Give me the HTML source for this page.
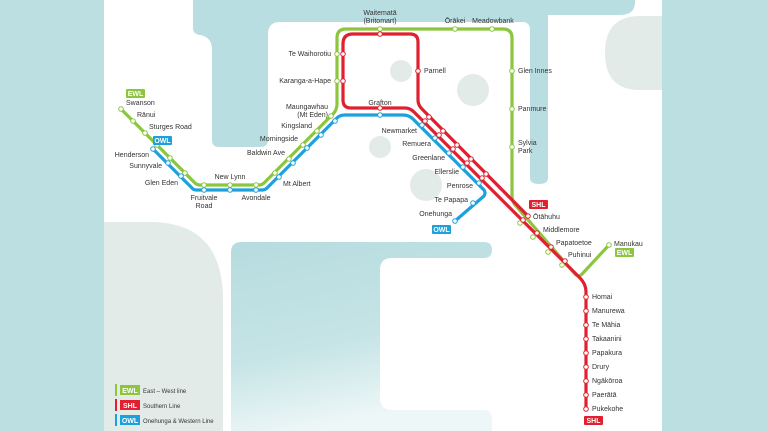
<!DOCTYPE html>
<html><head><meta charset="utf-8"><style>
html,body{margin:0;padding:0;background:#bcdfe2;}
svg{display:block;}
text{font-family:"Liberation Sans",sans-serif;font-size:7px;fill:#333;}
</style></head><body>
<svg width="767" height="431" viewBox="0 0 767 431" xmlns="http://www.w3.org/2000/svg">
<defs>
<linearGradient id="sea" x1="0" y1="0" x2="0.3" y2="1">
<stop offset="0" stop-color="#b6dcdf"/><stop offset="0.6" stop-color="#c6e4e6"/><stop offset="1" stop-color="#eef7f7"/>
</linearGradient>
</defs>
<rect width="767" height="431" fill="#bcdfe2"/>
<rect x="104" y="0" width="558" height="431" fill="#ffffff"/>
<!-- top sea -->
<path d="M193 0 H635 V2 Q635 15 620 15 H548 V178 Q548 184 539 184 Q530 184 530 178 V30 Q530 22 522 22 H280 Q268 22 268 34 V140 Q268 147 260 147 H219 Q212 147 212 140 V50 Q212 37 200 35 Q193 34 193 28 Z" fill="#b9dee1"/>
<!-- right grey -->
<path d="M662 16 H640 Q605 16 605 53 Q605 90 640 90 H662 Z" fill="#e3ebe8"/>
<!-- left grey -->
<path d="M104 222 H150 Q223 222 223 300 V431 H104 Z" fill="#e3ebe8"/>
<!-- bottom sea -->
<path d="M231 252 Q231 242 242 242 H484 Q492 242 492 250 Q492 258 484 258 H392 Q380 258 380 270 V398 Q380 410 392 410 H484 Q492 410 492 420 V431 H231 Z" fill="url(#sea)"/>
<!-- grey circles -->
<g fill="#e3ebe8">
<circle cx="401" cy="71" r="11"/><circle cx="473" cy="90" r="16"/><circle cx="380" cy="147" r="11"/><circle cx="426" cy="185" r="16"/>
</g>
<g fill="none" stroke-linecap="round" stroke-linejoin="round" stroke-width="3.2">
<!-- EWL green -->
<path d="M121 109 L195 183 Q197 185 200 185 H259 Q262 185 264 183 L333 114 Q337 110 337 104 V38 Q337 29 346 29 H503 Q512 29 512 38 V196 Q512 202 516 206 L575 274 Q579 278 583 273 L609 245" stroke="#8cc63f"/>
<!-- OWL blue -->
<path d="M153 149 L193 189 Q194 190 197 190 H262 Q265 190 267 188 L337 118 Q340 115 345 115 H403 Q409 115 413 119 L484 190 Q486 193 484 196 L455 221" stroke="#1ea0dc"/>
<!-- SHL red -->
<path d="M343 44 Q343 34 353 34 H410 Q418 34 418 42 V100 Q418 105 422 109 L528 216" stroke="#e0202f"/>
<path d="M343 44 V100 Q343 108 351 108 H405 Q410 108 414 112 L580 278 Q586 284 586 292 V409" stroke="#e0202f"/>
</g>
<!-- stations -->
<g fill="#fff" stroke-width="1">
<g stroke="#8cc63f">
<circle cx="121" cy="109" r="2.3"/><circle cx="133" cy="121" r="2.3"/><circle cx="145" cy="133" r="2.3"/><circle cx="157" cy="145" r="2.3"/><circle cx="170" cy="158" r="2.3"/><circle cx="185" cy="173" r="2.3"/>
<circle cx="204" cy="185" r="2.3"/><circle cx="230" cy="185" r="2.3"/><circle cx="256" cy="185" r="2.3"/>
<circle cx="275" cy="173" r="2.3"/><circle cx="289" cy="159" r="2.3"/><circle cx="303" cy="145" r="2.3"/><circle cx="317" cy="131" r="2.3"/><circle cx="331" cy="116" r="2.3"/>
<circle cx="337" cy="54" r="2.3"/><circle cx="337" cy="81" r="2.3"/>
<circle cx="380" cy="29" r="2.3"/><circle cx="455" cy="29" r="2.3"/><circle cx="492" cy="29" r="2.3"/>
<circle cx="512" cy="71" r="2.3"/><circle cx="512" cy="109" r="2.3"/><circle cx="512" cy="147" r="2.3"/>
<circle cx="520" cy="223" r="2.3"/><circle cx="533" cy="237" r="2.3"/><circle cx="548" cy="252" r="2.3"/><circle cx="562" cy="265" r="2.3"/><circle cx="609" cy="245" r="2.3"/>
</g>
<g stroke="#1ea0dc">
<circle cx="153" cy="149" r="2.3"/><circle cx="168" cy="163" r="2.3"/><circle cx="181" cy="176" r="2.3"/>
<circle cx="204" cy="190" r="2.3"/><circle cx="230" cy="190" r="2.3"/><circle cx="256" cy="190" r="2.3"/>
<circle cx="279" cy="177" r="2.3"/><circle cx="293" cy="163" r="2.3"/><circle cx="307" cy="148" r="2.3"/><circle cx="321" cy="135" r="2.3"/><circle cx="335" cy="121" r="2.3"/>
<circle cx="380" cy="115" r="2.3"/><circle cx="422" cy="125" r="2.3"/><circle cx="435" cy="138" r="2.3"/><circle cx="449" cy="153" r="2.3"/><circle cx="463" cy="167" r="2.3"/><circle cx="479" cy="183" r="2.3"/>
<circle cx="473" cy="203" r="2.3"/><circle cx="455" cy="221" r="2.3"/>
</g>
<g stroke="#e0202f">
<circle cx="380" cy="34" r="2.3"/><circle cx="343" cy="54" r="2.3"/><circle cx="343" cy="81" r="2.3"/><circle cx="418" cy="71" r="2.3"/><circle cx="380" cy="108" r="2.3"/>
<circle cx="429" cy="117" r="2.3"/><circle cx="425" cy="121" r="2.3"/>
<circle cx="443" cy="131" r="2.3"/><circle cx="439" cy="135" r="2.3"/>
<circle cx="457" cy="145" r="2.3"/><circle cx="453" cy="149" r="2.3"/>
<circle cx="471" cy="159" r="2.3"/><circle cx="467" cy="163" r="2.3"/>
<circle cx="486" cy="174" r="2.3"/><circle cx="482" cy="178" r="2.3"/>
<circle cx="528" cy="216" r="2.3"/><circle cx="523" cy="220" r="2.3"/>
<circle cx="537" cy="233" r="2.3"/><circle cx="551" cy="247" r="2.3"/><circle cx="565" cy="261" r="2.3"/>
<circle cx="586" cy="297" r="2.3"/><circle cx="586" cy="311" r="2.3"/><circle cx="586" cy="325" r="2.3"/><circle cx="586" cy="339" r="2.3"/><circle cx="586" cy="353" r="2.3"/><circle cx="586" cy="367" r="2.3"/><circle cx="586" cy="381" r="2.3"/><circle cx="586" cy="395" r="2.3"/><circle cx="586" cy="409" r="2.3"/>
</g>
</g>
<!-- labels -->
<g text-anchor="middle">
<text x="380" y="15">Waitematā</text><text x="380" y="23">(Britomart)</text>
<text x="455" y="23">Ōrākei</text><text x="493" y="23">Meadowbank</text>
<text x="380" y="105">Grafton</text><text x="230" y="179">New Lynn</text>
<text x="256" y="200">Avondale</text><text x="204" y="200">Fruitvale</text><text x="204" y="208">Road</text>
</g>
<g text-anchor="end">
<text x="331" y="56">Te Waihorotiu</text><text x="331" y="83">Karanga-a-Hape</text>
<text x="328" y="109">Maungawhau</text><text x="328" y="117">(Mt Eden)</text>
<text x="312" y="128">Kingsland</text><text x="298" y="141">Morningside</text><text x="285" y="155">Baldwin Ave</text>
<text x="178" y="185">Glen Eden</text><text x="162" y="168">Sunnyvale</text><text x="149" y="157">Henderson</text>
<text x="417" y="133">Newmarket</text><text x="431" y="146">Remuera</text><text x="445" y="160">Greenlane</text>
<text x="459" y="174">Ellerslie</text><text x="473" y="188">Penrose</text><text x="468" y="202">Te Papapa</text><text x="452" y="216">Onehunga</text>
</g>
<g>
<text x="283" y="186">Mt Albert</text>
<text x="149" y="129">Sturges Road</text><text x="137" y="117">Rānui</text><text x="126" y="105">Swanson</text>
<text x="424" y="73">Parnell</text><text x="518" y="73">Glen Innes</text><text x="518" y="111">Panmure</text>
<text x="518" y="145">Sylvia</text><text x="518" y="153">Park</text>
<text x="533" y="219">Ōtāhuhu</text><text x="543" y="232">Middlemore</text><text x="556" y="245">Papatoetoe</text><text x="568" y="257">Puhinui</text>
<text x="614" y="246">Manukau</text>
<text x="592" y="299">Homai</text><text x="592" y="313">Manurewa</text><text x="592" y="327">Te Māhia</text><text x="592" y="341">Takaanini</text><text x="592" y="355">Papakura</text><text x="592" y="369">Drury</text><text x="592" y="383">Ngākōroa</text><text x="592" y="397">Paerātā</text><text x="592" y="411">Pukekohe</text>
</g>
<!-- badges -->
<g font-weight="bold" text-anchor="middle">
<rect x="126" y="89" width="19" height="9" rx="1" fill="#8cc63f"/><text x="135.5" y="96" style="fill:#fff;font-weight:bold">EWL</text>
<rect x="153" y="136" width="19" height="9" rx="1" fill="#1ea0dc"/><text x="162.5" y="143" style="fill:#fff;font-weight:bold">OWL</text>
<rect x="432" y="225" width="19" height="9" rx="1" fill="#1ea0dc"/><text x="441.5" y="232" style="fill:#fff;font-weight:bold">OWL</text>
<rect x="529" y="200" width="19" height="9" rx="1" fill="#e0202f"/><text x="538.5" y="207" style="fill:#fff;font-weight:bold">SHL</text>
<rect x="615" y="248" width="19" height="9" rx="1" fill="#8cc63f"/><text x="624.5" y="255" style="fill:#fff;font-weight:bold">EWL</text>
<rect x="584" y="416" width="19" height="9" rx="1" fill="#e0202f"/><text x="593.5" y="423" style="fill:#fff;font-weight:bold">SHL</text>
</g>
<!-- legend -->
<rect x="115" y="384" width="2" height="12" fill="#8cc63f"/>
<rect x="120" y="385" width="20" height="10" fill="#8cc63f"/><text x="130" y="393" text-anchor="middle" style="fill:#fff;font-weight:bold">EWL</text>
<text x="143" y="393" style="font-size:6px">East – West line</text>
<rect x="115" y="399" width="2" height="12" fill="#e0202f"/>
<rect x="120" y="400" width="20" height="10" fill="#e0202f"/><text x="130" y="408" text-anchor="middle" style="fill:#fff;font-weight:bold">SHL</text>
<text x="143" y="408" style="font-size:6px">Southern Line</text>
<rect x="115" y="414" width="2" height="12" fill="#1ea0dc"/>
<rect x="120" y="415" width="20" height="10" fill="#1ea0dc"/><text x="130" y="423" text-anchor="middle" style="fill:#fff;font-weight:bold">OWL</text>
<text x="143" y="423" style="font-size:6px">Onehunga &amp; Western Line</text>
</svg>
</body></html>
